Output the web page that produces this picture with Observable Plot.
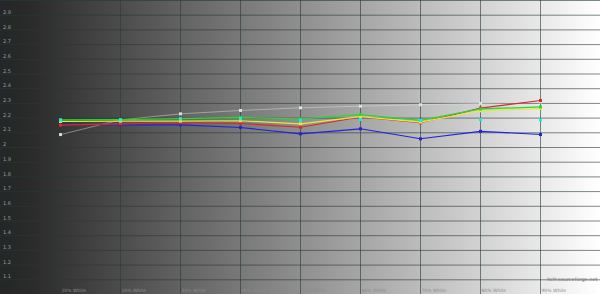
<!DOCTYPE html>
<html>
<head>
<meta charset="utf-8">
<script src="https://cdn.jsdelivr.net/npm/d3@7"></script>
<script src="https://cdn.jsdelivr.net/npm/@observablehq/plot@0.6"></script>
<style>
  html, body { margin: 0; padding: 0; background: #ffffff; }
  #chart {
    width: 600px; height: 294px; overflow: hidden;
    background: linear-gradient(to right, #242727 0px, #2a2a2a 30px, #ffffff 600px);
  }
  #chart svg { display: block; background: transparent; }
</style>
</head>
<body>
<div id="chart"></div>
<script>
// Percent of white (x categories)
const levels = [10, 20, 30, 40, 50, 60, 70, 80, 90];
const levelLabels = ["10% White", "20% White", "30% White", "40% White", "50% White", "60% White", "70% White", "80% White", "90% White"];

// Gamma values per series
const whiteGamma  = [2.088, 2.188, 2.229, 2.252, 2.270, 2.281, 2.291, 2.300, 2.310];
const redGamma    = [2.152, 2.161, 2.168, 2.163, 2.138, 2.208, 2.168, 2.268, 2.320];
const greenGamma  = [2.187, 2.190, 2.197, 2.204, 2.195, 2.224, 2.184, 2.262, 2.276];
const yellowGamma = [2.177, 2.179, 2.180, 2.182, 2.161, 2.210, 2.173, 2.250, 2.265];
const cyanGamma   = [2.188, 2.188, 2.194, 2.195, 2.184, 2.190, 2.184, 2.190, 2.188];
const blueGamma   = [2.158, 2.154, 2.154, 2.136, 2.093, 2.127, 2.059, 2.110, 2.088];

// Axis ticks
const yTicks = [2.9, 2.8, 2.7, 2.6, 2.5, 2.4, 2.3, 2.2, 2.1, 2.0, 1.9, 1.8, 1.7, 1.6, 1.5, 1.4, 1.3, 1.2, 1.1];
const yGrid = [1.0, 1.1, 1.2, 1.3, 1.4, 1.5, 1.6, 1.7, 1.8, 1.9, 2.0, 2.1, 2.2, 2.3, 2.4, 2.5, 2.6, 2.7, 2.8, 2.9, 3.0];
const xGrid = [10, 20, 30, 40, 50, 60, 70, 80, 90];

const mk = (arr) => levels.map((l, i) => ({level: l, gamma: arr[i]}));

const series = [
  {data: mk(whiteGamma),  color: "#e8e8e8", width: 0.8, opacity: 0.55, line: true},
  {data: mk(blueGamma),   color: "#2323d8", width: 1.1, opacity: 1, line: true},
  {data: mk(redGamma),    color: "#d82a2a", width: 1.1, opacity: 1, line: true},
  {data: mk(yellowGamma), color: "#e6e83a", width: 1.2, opacity: 1, line: true},
  {data: mk(greenGamma),  color: "#2ed43a", width: 1.3, opacity: 1, line: true},
  {data: mk(cyanGamma),   color: "#22e6e0", width: 1, opacity: 1, line: false}
];

const marks = [
  Plot.ruleY(yGrid, {y: d => d, stroke: "#283838", strokeOpacity: 0.6, strokeWidth: 1}),
  Plot.ruleX(xGrid, {x: d => d, stroke: "#283838", strokeOpacity: 0.6, strokeWidth: 1}),
  Plot.text(yTicks, {
    x: 0.4, y: d => d, text: d => String(d), textAnchor: "start", dy: -3,
    fill: "#9a9a9a", fontSize: 5, fontFamily: "DejaVu Sans"
  }),
  Plot.text(levels, {
    x: d => d, y: 1.027, text: (d, i) => levelLabels[i], textAnchor: "start", dx: 1,
    fill: "#8c8c8c", fontSize: 4.5, fontFamily: "DejaVu Sans"
  }),
  Plot.text(["hcfr.sourceforge.net"], {
    x: 99.5, y: 1.102, text: d => d, textAnchor: "end",
    fill: "#6e6e6e", fontSize: 5, fontFamily: "DejaVu Sans"
  })
];

for (const s of series) {
  if (s.line) {
    marks.push(Plot.line(s.data, {x: "level", y: "gamma", stroke: s.color, strokeWidth: s.width, strokeOpacity: s.opacity}));
  }
}
for (const s of series) {
  marks.push(Plot.dot(s.data, {x: "level", y: "gamma", symbol: "square", r: 1.7, fill: s.color, fillOpacity: s.line && s.opacity < 1 ? 0.9 : 1}));
}

const chart = Plot.plot({
  width: 600,
  height: 294,
  marginTop: 0, marginBottom: 0, marginLeft: 0, marginRight: 0,
  x: {domain: [0, 100], axis: null},
  y: {domain: [1, 3], axis: null},
  style: {background: "transparent", overflow: "hidden"},
  marks
});
document.getElementById("chart").appendChild(chart);
</script>
</body>
</html>
